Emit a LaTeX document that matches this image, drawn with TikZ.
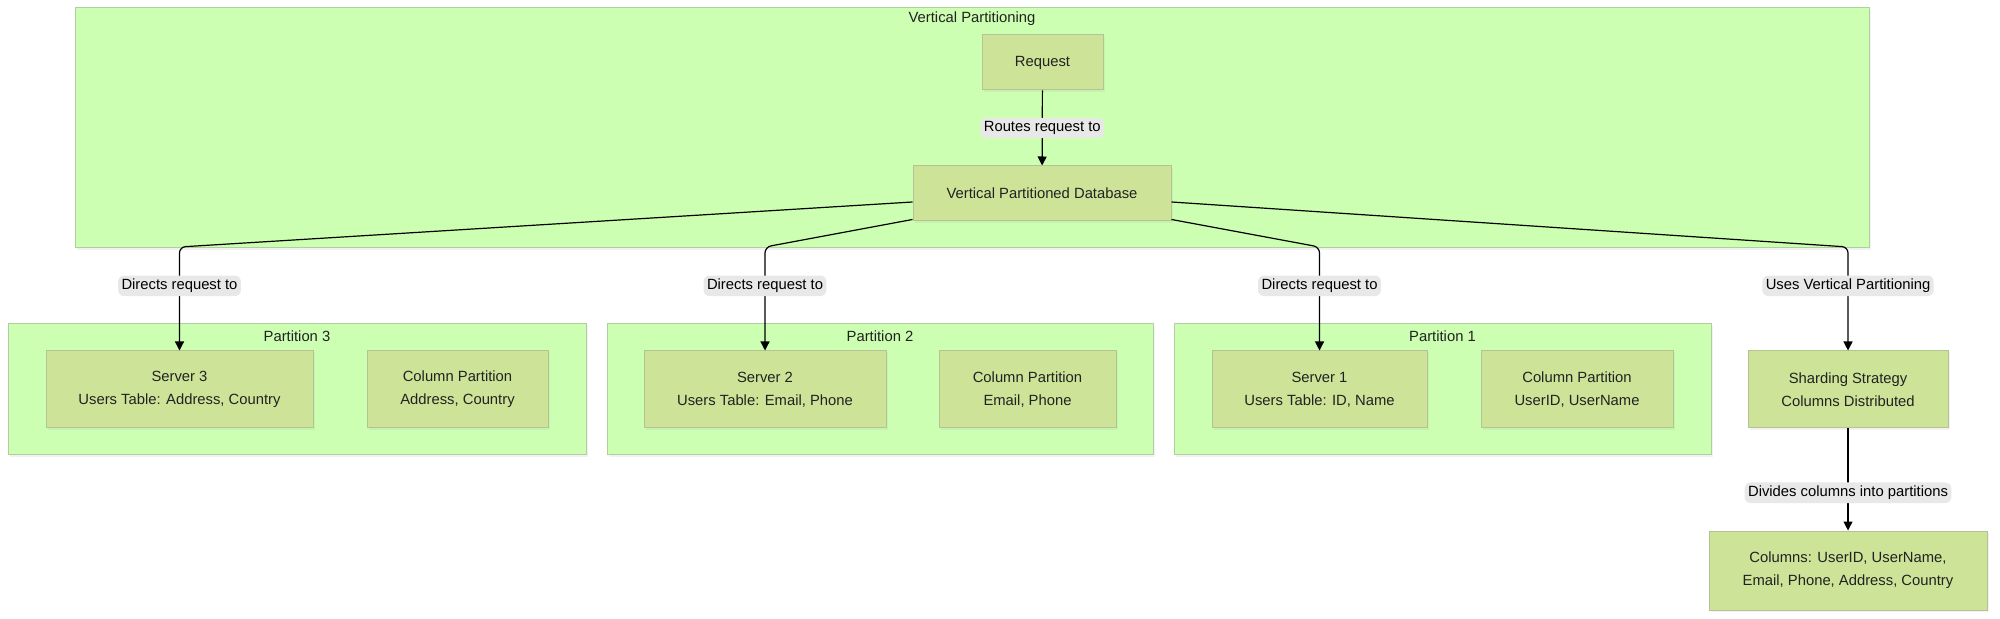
\documentclass[tikz,border=0pt]{standalone}
\usepackage{fontspec}
\setmainfont{Liberation Sans}
\usetikzlibrary{arrows.meta,shadows}

\definecolor{clusterfill}{HTML}{CDFFB2}
\definecolor{clusterline}{HTML}{B2CDA0}
\definecolor{boxfill}{HTML}{CDE498}
\definecolor{boxline}{HTML}{B4C396}
\definecolor{labelfill}{HTML}{E8E8E8}
\definecolor{txt}{HTML}{222222}

\tikzset{
  cluster/.style={draw=clusterline, fill=clusterfill, line width=0.5pt, inner sep=0pt,
    drop shadow={opacity=0.1, shadow xshift=1pt, shadow yshift=-1pt}},
  clabel/.style={text=txt, inner sep=0pt, font=\fontsize{7.4}{9}\selectfont},
  box/.style={draw=boxline, fill=boxfill, line width=0.5pt, inner sep=0pt, align=center,
    text=txt, font=\fontsize{7.4}{11.5}\selectfont,
    drop shadow={opacity=0.1, shadow xshift=1pt, shadow yshift=-1pt}},
  elabel/.style={fill=labelfill, text=black, inner sep=1.7pt, font=\fontsize{7.4}{9}\selectfont},
  edge/.style={draw=black, line width=0.6pt, rounded corners=3pt, -{Triangle[length=4.5pt,width=4.5pt]}}
}

\begin{document}
\begin{tikzpicture}[x=0.5pt, y=-0.5pt]
\useasboundingbox (0,0) rectangle (2000,619);
% groups
\node[cluster, minimum width=897pt, minimum height=120pt] (vp) at (972,128) {};
\node[clabel] (vplabel) at (972,19) {Vertical Partitioning};
\node[cluster, minimum width=289pt, minimum height=65.5pt] (p3) at (297,389.5) {};
\node[clabel] (p3label) at (297,336) {Partition 3};
\node[cluster, minimum width=273pt, minimum height=65.5pt] (p2) at (880,389.5) {};
\node[clabel] (p2label) at (880,336) {Partition 2};
\node[cluster, minimum width=268.5pt, minimum height=65.5pt] (p1) at (1442.5,389.5) {};
\node[clabel] (p1label) at (1442.5,336) {Partition 1};
% boxes
\node[box, minimum width=60.5pt, minimum height=27.5pt] (req) at (1042.5,62.5) {Request};
\node[box, minimum width=129pt, minimum height=27.5pt] (db) at (1042,193.5) {Vertical Partitioned Database};
\node[box, minimum width=133.5pt, minimum height=38.5pt] (srv3) at (179.5,389.5) {Server 3\\Users Table: Address, Country};
\node[box, minimum width=90.5pt, minimum height=38.5pt] (col3) at (457.5,389.5) {Column Partition\\Address, Country};
\node[box, minimum width=121pt, minimum height=38.5pt] (srv2) at (765,389.5) {Server 2\\Users Table: Email, Phone};
\node[box, minimum width=88.5pt, minimum height=38.5pt] (col2) at (1027.5,389.5) {Column Partition\\Email, Phone};
\node[box, minimum width=107.5pt, minimum height=38.5pt] (srv1) at (1319.5,389.5) {Server 1\\Users Table: ID, Name};
\node[box, minimum width=96pt, minimum height=38.5pt] (col1) at (1577,389.5) {Column Partition\\UserID, UserName};
\node[box, minimum width=100pt, minimum height=38.5pt] (shard) at (1848,389.5) {Sharding Strategy\\Columns Distributed};
\node[box, minimum width=139pt, minimum height=39.5pt] (cols) at (1848,570.5) {Columns: UserID, UserName,\\Email, Phone, Address, Country};
\coordinate (row) at (0,247);
% links
\draw[edge] (req) -- node[elabel] (lroute) {Routes request to} (db);
\draw[edge] ([yshift=-4.25pt]db.west) -- (srv3.north |- row) -- node[elabel, pos=.375] (l3) {Directs request to} (srv3.north);
\draw[edge] ([yshift=1pt]db.south west) -- (srv2.north |- row) -- node[elabel, pos=.375] (l2) {Directs request to} (srv2.north);
\draw[edge] ([yshift=1pt]db.south east) -- (srv1.north |- row) -- node[elabel, pos=.375] (l1) {Directs request to} (srv1.north);
\draw[edge] ([yshift=-4.25pt]db.east) -- (shard.north |- row) -- node[elabel, pos=.375] (luse) {Uses Vertical Partitioning} (shard.north);
\draw[edge] (shard) -- node[elabel, pos=.63] (ldiv) {Divides columns into partitions} (cols);
\end{tikzpicture}
\end{document}
